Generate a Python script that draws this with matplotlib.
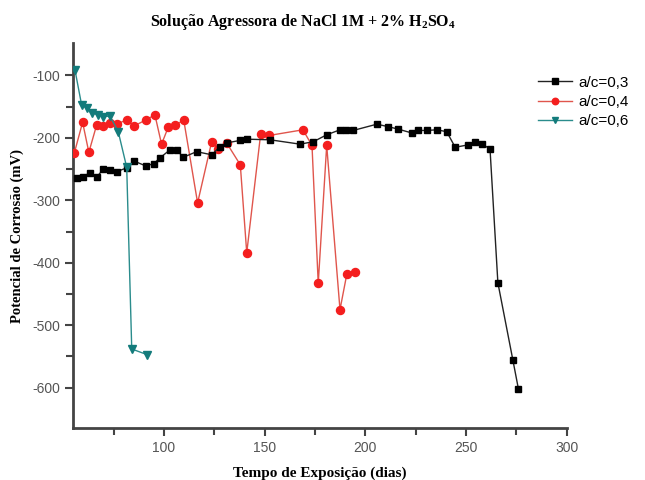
import matplotlib
matplotlib.use('Agg')
import matplotlib.pyplot as plt
from matplotlib.ticker import MultipleLocator, FixedLocator

plt.rcParams["axes.unicode_minus"] = False
plt.rcParams["mathtext.fontset"] = "custom"
plt.rcParams["mathtext.bf"] = "Liberation Serif:bold"
plt.rcParams["mathtext.rm"] = "Liberation Serif"

# a/c = 0,3
dias_03 = [56.6, 59.6, 63.2, 66.6, 69.8, 73.2, 76.5, 81.5, 85.1, 91.1, 95.0, 98.0,
           103.0, 106.3, 109.6, 116.2, 123.7, 127.8, 131.1, 137.8, 141.1, 152.7,
           167.6, 174.2, 180.8, 187.4, 190.5, 194.0, 205.7, 211.4, 216.4, 223.0,
           226.3, 230.5, 235.5, 240.4, 244.6, 251.2, 254.5, 257.8, 261.9, 265.8,
           273.2, 276.0]
pot_03 = [-264, -262, -256, -263, -250, -252, -254, -248, -237, -245, -241, -232,
          -219, -219, -231, -222, -227, -214, -208, -204, -202, -203,
          -210, -206, -195, -187, -187, -188, -178, -182, -186, -192,
          -188, -188, -187, -190, -215, -211, -206, -209, -218, -432,
          -555, -602]

# a/c = 0,4
dias_04 = [55.5, 59.6, 62.7, 66.6, 69.8, 73.2, 76.5, 81.5, 85.1, 91.1, 95.5, 98.8,
           102.1, 105.7, 109.8, 116.7, 123.7, 127.0, 131.1, 137.9, 141.1, 148.0,
           152.3, 169.0, 173.5, 176.6, 180.8, 187.4, 190.8, 194.9]
pot_04 = [-224, -175, -223, -179, -181, -176, -178, -171, -181, -171, -163, -210,
          -183, -180, -171, -304, -206, -218, -208, -243, -384, -194,
          -196, -187, -212, -433, -212, -475, -418, -414]

# a/c = 0,6
dias_06 = [55.8, 59.1, 61.6, 64.1, 67.4, 69.8, 73.2, 77.3, 81.5, 84.0, 91.6]
pot_06 = [-91, -147, -152, -160, -163, -166, -165, -190, -247, -538, -547]

fig = plt.figure(figsize=(6.45, 4.8), dpi=100)
ax = fig.add_axes([0.1137, 0.1077, 0.765, 0.8027])

ax.plot(dias_03, pot_03, color="#222222", lw=1.0, marker="s", ms=5,
        mfc="black", mec="black", label="a/c=0,3", zorder=4)
ax.plot(dias_04, pot_04, color="#E0554C", lw=1.0, marker="o", ms=5.8,
        mfc="#F41E1E", mec="#F41E1E", label="a/c=0,4", zorder=3)
ax.plot(dias_06, pot_06, color="#2A8C8C", lw=1.0, marker="v", ms=6,
        mfc="#137B7B", mec="#137B7B", label="a/c=0,6", zorder=5)

ax.set_xlim(55, 300)
ax.set_ylim(-665, -48)
ax.xaxis.set_major_locator(MultipleLocator(50))
ax.xaxis.set_minor_locator(FixedLocator([75, 125, 175, 225, 275]))
ax.yaxis.set_major_locator(FixedLocator([-100, -200, -300, -400, -500, -600]))
ax.yaxis.set_minor_locator(FixedLocator([-150, -250, -350, -450, -550]))

for s in ["top", "right"]:
    ax.spines[s].set_visible(False)
for s in ["left", "bottom"]:
    ax.spines[s].set_linewidth(2.0)
    ax.spines[s].set_color("#444444")

ax.tick_params(which="both", direction="out", width=1.5, color="#444444",
               labelsize=10, labelcolor="#555555")
ax.tick_params(which="major", length=6)
ax.tick_params(which="minor", length=5)
for lab in ax.get_xticklabels() + ax.get_yticklabels():
    lab.set_family("Liberation Sans")

fig.text(0.47, 0.955, "Solução Agressora de NaCl 1M + 2% H$_\\mathbf{2}$SO$_\\mathbf{4}$",
         ha="center", va="center", fontsize=11.5, fontweight="bold",
         family="Liberation Serif")
ax.set_xlabel("Tempo de Exposição (dias)", fontsize=11, fontweight="bold",
              family="Liberation Serif", labelpad=8)
ax.set_ylabel("Potencial de Corrosão (mV)", fontsize=10.5, fontweight="bold",
              family="Liberation Serif", labelpad=6)

ax.legend(loc="upper left", bbox_to_anchor=(0.825, 0.855),
          bbox_transform=fig.transFigure, frameon=False,
          prop={"family": "Liberation Sans", "size": 11},
          handlelength=2.2, handletextpad=0.4, labelspacing=0.35,
          borderaxespad=0, markerscale=0.8)

plt.savefig("out.png", dpi=100)
plt.close()
